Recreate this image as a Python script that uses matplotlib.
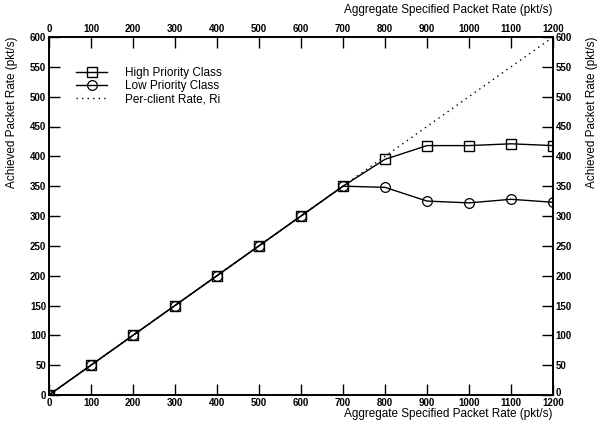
import matplotlib
matplotlib.use("Agg")
import matplotlib.pyplot as plt
import matplotlib.transforms as mtransforms

plt.rcParams['font.family'] = ['Liberation Sans', 'DejaVu Sans']

x_vals = [0, 100, 200, 300, 400, 500, 600, 700, 800, 900, 1000, 1100, 1200]
high_priority = [0, 50, 100, 150, 200, 250, 300, 350, 395, 418, 418, 421, 418]
low_priority = [0, 50, 100, 150, 200, 250, 300, 350, 348, 325, 322, 328, 323]
ideal_x = [0, 1200]
ideal_y = [0, 600]

x_ticks = [0, 100, 200, 300, 400, 500, 600, 700, 800, 900, 1000, 1100, 1200]
y_ticks = [0, 50, 100, 150, 200, 250, 300, 350, 400, 450, 500, 550, 600]

fig = plt.figure(figsize=(6.0, 4.3), dpi=100)
ax = fig.add_axes([49/600, 35/430, 504/600, 358/430])

ax.plot(x_vals, high_priority, color='black', lw=1.0, marker='s', ms=6.5,
        mfc='none', mec='black', mew=1.0, label='High Priority Class', zorder=4)
ax.plot(x_vals, low_priority, color='black', lw=1.0, marker='o', ms=7,
        mfc='none', mec='black', mew=0.9, label='Low Priority Class', zorder=3)
ax.plot(ideal_x, ideal_y, color='black', lw=1.0, ls=(0, (1, 3)),
        label='Per-client Rate, Ri', zorder=2)

ax.set_xlim(0, 1200)
ax.set_ylim(0, 600)
ax.set_xticks(x_ticks)
ax.set_yticks(y_ticks)

for sp in ax.spines.values():
    sp.set_linewidth(1.4)

ax.tick_params(axis='both', which='both', direction='in', length=8, width=1.0,
               top=True, right=True, labeltop=True, labelright=True,
               labelsize=7, pad=2)
for t in ax.xaxis.get_major_ticks():
    t.label1.set_fontweight('bold')
    t.label2.set_fontweight('bold')
for t in ax.yaxis.get_major_ticks():
    t.label1.set_fontweight('bold')
    t.label2.set_fontweight('bold')

# nudge the right-hand "0" label slightly upward to avoid touching "1200"
fig.canvas.draw()
first_right = ax.yaxis.get_major_ticks()[0].label2
first_right.set_transform(first_right.get_transform() +
                          mtransforms.ScaledTranslation(0, 3/100, fig.dpi_scale_trans))

xl = 'Aggregate Specified Packet Rate (pkt/s)'
yl = 'Achieved Packet Rate (pkt/s)'
fig.text(553/600, 1 - 414/430, xl, ha='right', va='center', fontsize=8.5)
fig.text(553/600, 1 - 10/430, xl, ha='right', va='center', fontsize=8.5)
fig.text(12/600, 1 - 37/430, yl, rotation=90, ha='center', va='top', fontsize=8.5)
fig.text(592/600, 1 - 37/430, yl, rotation=90, ha='center', va='top', fontsize=8.5)

leg = ax.legend(loc='upper left', bbox_to_anchor=(0.045, 0.93), frameon=False,
                fontsize=8.5, handlelength=2.6, handletextpad=1.5,
                labelspacing=0.12, borderaxespad=0)

fig.savefig('out.png', dpi=100)
